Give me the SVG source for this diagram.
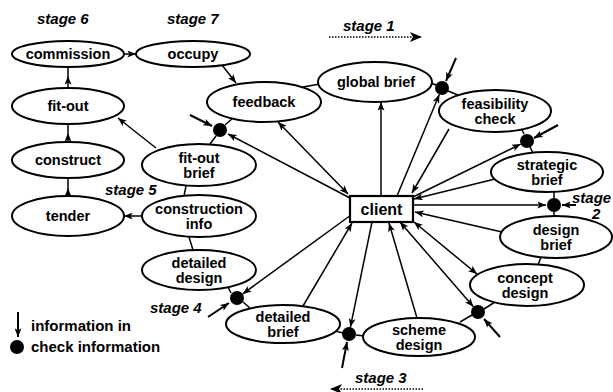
<svg xmlns="http://www.w3.org/2000/svg" width="613" height="392" viewBox="0 0 613 392">
<style>
.n ellipse{fill:#fff;stroke:#000;stroke-width:2}
text{font-family:"Liberation Sans",Arial,sans-serif;font-weight:bold;fill:#000}
.l{font-size:14.5px;text-anchor:middle}
.s{font-size:15px;font-style:italic}
.c line,.c polyline,.c path{stroke:#000;stroke-width:1.5;fill:none}
.c .in{stroke-width:2}
.dot{fill:#000}
.dash{stroke:#000;stroke-width:2.5;stroke-dasharray:1.5 1.5;fill:none}
</style>
<defs>
<marker id="a" viewBox="0 0 10 8" refX="10" refY="4" markerWidth="10" markerHeight="7" orient="auto-start-reverse" markerUnits="userSpaceOnUse">
<path d="M0,0 L10,4 L0,8 L2.5,4 z" fill="#000"/>
</marker>
<marker id="b" viewBox="0 0 12 10" refX="12" refY="5" markerWidth="13" markerHeight="10" orient="auto" markerUnits="userSpaceOnUse">
<path d="M0,0 L12,5 L0,10 L3,5 z" fill="#000"/>
</marker>
</defs>

<g id="connectors" class="c">
<line x1="124" y1="54" x2="136" y2="54" marker-end="url(#a)"/>
<polyline points="68,88 68,76 68,67" marker-mid="url(#a)"/>
<polyline points="68,142 68,133 68,124" marker-mid="url(#a)"/>
<polyline points="68,196 68,188 68,178" marker-mid="url(#a)"/>
<line x1="222" y1="65" x2="236" y2="83" marker-end="url(#a)"/>
<line x1="156" y1="148" x2="118" y2="118" marker-end="url(#a)"/>
<line x1="142" y1="216" x2="124" y2="216" marker-end="url(#a)"/>
<line x1="186" y1="186" x2="184" y2="196"/>
<line x1="189" y1="237" x2="193" y2="250"/>
<line x1="225" y1="125" x2="233" y2="118"/>
<line x1="216" y1="136" x2="210" y2="144"/>
<line class="in" x1="190" y1="115" x2="212" y2="126" marker-end="url(#a)"/>
<line x1="350" y1="198" x2="228" y2="134" marker-end="url(#a)"/>
<line x1="348" y1="194" x2="278" y2="122" marker-start="url(#a)" marker-end="url(#a)"/>
<line x1="303" y1="87" x2="320" y2="84"/>
<line x1="381" y1="196" x2="381" y2="102" marker-end="url(#a)"/>
<line x1="397" y1="196" x2="439.3" y2="94.5" marker-end="url(#a)"/>
<line x1="431" y1="83" x2="436" y2="85"/>
<line x1="448" y1="91" x2="458" y2="95"/>
<line class="in" x1="456" y1="58" x2="446" y2="81" marker-end="url(#a)"/>
<line x1="449" y1="129" x2="412" y2="193" marker-end="url(#a)"/>
<line x1="413" y1="197" x2="520.7" y2="144.1" marker-end="url(#a)"/>
<line x1="524" y1="134" x2="522" y2="130"/>
<line x1="530" y1="147" x2="533" y2="153"/>
<line class="in" x1="558" y1="125" x2="534" y2="138" marker-end="url(#a)"/>
<line x1="495" y1="179" x2="414" y2="199" marker-end="url(#a)"/>
<line x1="413" y1="205" x2="546" y2="205" marker-end="url(#a)"/>
<line x1="554" y1="192" x2="554" y2="198"/>
<line x1="554" y1="212" x2="554" y2="216"/>
<line class="in" x1="576" y1="205" x2="562" y2="205" marker-end="url(#a)"/>
<line x1="502" y1="232" x2="415" y2="212" marker-end="url(#a)"/>
<line x1="541" y1="257" x2="538" y2="265"/>
<line x1="414" y1="222" x2="477" y2="274" marker-start="url(#a)" marker-end="url(#a)"/>
<line x1="495" y1="302" x2="484" y2="309"/>
<line x1="472" y1="315" x2="460" y2="322"/>
<line class="in" x1="500" y1="337" x2="484" y2="319" marker-end="url(#a)"/>
<line x1="400" y1="222" x2="473.4" y2="306.7" marker-start="url(#a)" marker-end="url(#a)"/>
<line x1="417" y1="318" x2="389" y2="223" marker-end="url(#a)"/>
<line x1="372" y1="222" x2="350.4" y2="327.1" marker-end="url(#a)"/>
<line x1="343" y1="333" x2="335" y2="331"/>
<line x1="356" y1="335" x2="364" y2="336"/>
<line class="in" x1="342" y1="368" x2="347" y2="342" marker-end="url(#a)"/>
<line x1="303" y1="306" x2="352" y2="223" marker-end="url(#a)"/>
<line x1="351" y1="215" x2="242.7" y2="293.9" marker-end="url(#a)"/>
<line x1="231" y1="293" x2="228" y2="287"/>
<line x1="243" y1="302" x2="250" y2="308"/>
<line class="in" x1="208" y1="317" x2="229" y2="303" marker-end="url(#a)"/>
<line class="in" x1="18" y1="312" x2="18" y2="337" marker-end="url(#a)"/>
<line class="dash" x1="329" y1="37" x2="422" y2="37" marker-end="url(#b)"/>
<line class="dash" x1="423" y1="389" x2="330" y2="389" marker-end="url(#b)"/>
</g>

<g id="commission" class="n"><ellipse cx="68" cy="54" rx="56" ry="13"/><text class="l" x="68" y="59">commission</text></g>
<g id="occupy" class="n"><ellipse cx="193" cy="54" rx="57" ry="13"/><text class="l" x="193" y="59">occupy</text></g>
<g id="fit-out" class="n"><ellipse cx="68" cy="106" rx="56" ry="18"/><text class="l" x="68" y="111">fit-out</text></g>
<g id="construct" class="n"><ellipse cx="68" cy="160" rx="56" ry="18"/><text class="l" x="68" y="165">construct</text></g>
<g id="tender" class="n"><ellipse cx="68" cy="216" rx="56" ry="20"/><text class="l" x="68" y="221">tender</text></g>
<g id="feedback" class="n"><ellipse cx="264" cy="102" rx="57" ry="20"/><text class="l" x="264" y="107">feedback</text></g>
<g id="global-brief" class="n"><ellipse cx="375" cy="82" rx="57" ry="20"/><text class="l" x="376" y="87">global brief</text></g>
<g id="feasibility-check" class="n"><ellipse cx="495" cy="111" rx="56" ry="21"/><text class="l" x="495" y="109">feasibility</text><text class="l" x="495" y="124">check</text></g>
<g id="strategic-brief" class="n"><ellipse cx="547" cy="172" rx="56" ry="20"/><text class="l" x="547" y="170">strategic</text><text class="l" x="547" y="185">brief</text></g>
<g id="design-brief" class="n"><ellipse cx="556" cy="237" rx="56" ry="21"/><text class="l" x="556" y="235">design</text><text class="l" x="556" y="250">brief</text></g>
<g id="concept-design" class="n"><ellipse cx="527" cy="285" rx="57" ry="21"/><text class="l" x="525" y="283">concept</text><text class="l" x="525" y="298">design</text></g>
<g id="scheme-design" class="n"><ellipse cx="419" cy="337" rx="56" ry="19"/><text class="l" x="419" y="335">scheme</text><text class="l" x="419" y="350">design</text></g>
<g id="detailed-brief" class="n"><ellipse cx="283" cy="324" rx="57" ry="19"/><text class="l" x="283" y="322">detailed</text><text class="l" x="283" y="337">brief</text></g>
<g id="detailed-design" class="n"><ellipse cx="199" cy="270" rx="57" ry="20"/><text class="l" x="199" y="268">detailed</text><text class="l" x="199" y="283">design</text></g>
<g id="construction-info" class="n"><ellipse cx="199" cy="216" rx="57" ry="21"/><text class="l" x="199" y="214">construction</text><text class="l" x="199" y="229">info</text></g>
<g id="fit-out-brief" class="n"><ellipse cx="199" cy="165" rx="57" ry="21"/><text class="l" x="199" y="163">fit-out</text><text class="l" x="199" y="178">brief</text></g>

<g id="client"><rect x="350" y="196" width="63" height="26" fill="#fff" stroke="#000" stroke-width="2.2"/><text x="381.5" y="215" text-anchor="middle" font-size="16">client</text></g>

<g id="checks">
<circle class="dot" cx="442" cy="88" r="7"/>
<circle class="dot" cx="527" cy="141" r="7"/>
<circle class="dot" cx="554" cy="205" r="7"/>
<circle class="dot" cx="478" cy="312" r="7"/>
<circle class="dot" cx="349" cy="334" r="7"/>
<circle class="dot" cx="237" cy="298" r="7"/>
<circle class="dot" cx="220" cy="130" r="7"/>
</g>

<g id="stages">
<text class="s" x="37" y="24">stage 6</text>
<text class="s" x="167" y="24">stage 7</text>
<text class="s" x="343" y="31">stage 1</text>
<text class="s" x="572" y="203" font-size="14.5">stage</text>
<text class="s" x="592" y="219">2</text>
<text class="s" x="355" y="383">stage 3</text>
<text class="s" x="150" y="313">stage 4</text>
<text class="s" x="105" y="195">stage 5</text>
</g>

<g id="legend">
<circle class="dot" cx="17" cy="347" r="7"/>
<text x="31" y="331" font-size="15">information in</text>
<text x="31" y="352" font-size="15">check information</text>
</g>
</svg>
